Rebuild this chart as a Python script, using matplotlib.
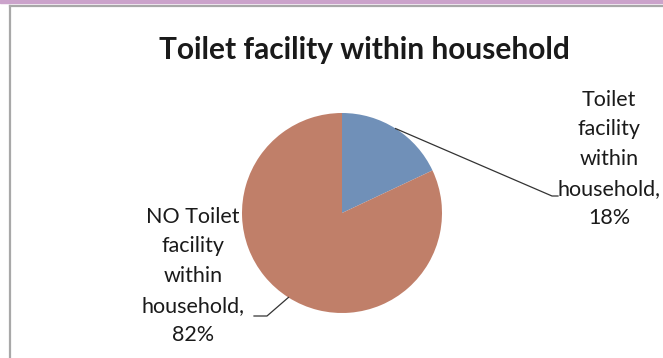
import numpy as np
import matplotlib
matplotlib.use("Agg")
import matplotlib.pyplot as plt
from matplotlib.lines import Line2D
from matplotlib.patches import Rectangle

title = "Toilet facility within household"
labels = ["Toilet\nfacility\nwithin\nhousehold,\n18%", "NO Toilet\nfacility\nwithin\nhousehold,\n82%"]
values = [18, 82]
colors = ["#7090b8", "#c07f69"]

W, H = 663, 358
fig = plt.figure(figsize=(W / 100, H / 100), dpi=100)
ax = fig.add_axes([0, 0, 1, 1])

# frame decorations
fig.patches.append(Rectangle((0, (H - 3) / H), 1, 3 / H, transform=fig.transFigure,
                             color="#cba3cb", zorder=0))

cx, cy, r = 342, H - 213, 100
wedges, _ = ax.pie(values, colors=colors, startangle=90, counterclock=False,
                   center=(cx, cy), radius=r, frame=True)
ax.set_xlim(0, W)
ax.set_ylim(0, H)
ax.axis("off")
ax.set_aspect("equal")
ax.add_line(Line2D([9.5, 9.5], [0, H - 6], color="#a8a8a8", lw=1.6))
ax.add_line(Line2D([9.5, W], [H - 6, H - 6], color="#a8a8a8", lw=1.6))

font = ["Lato", "DejaVu Sans"]
ax.text(364, H - 50, title, ha="center", va="center", fontsize=21.5,
        fontweight="bold", family=font, color="#1a1a1a")

# label positions and leader elbows
label_pos = [(609, H - 159), (193, H - 276)]
elbows = [((552, H - 196), (558, H - 196)), ((267, H - 316), (254, H - 316))]
for w, txt, (lx, ly), (e1, e2) in zip(wedges, labels, label_pos, elbows):
    ang = np.deg2rad((w.theta1 + w.theta2) / 2)
    px, py = cx + r * np.cos(ang), cy + r * np.sin(ang)
    ax.add_line(Line2D([px, e1[0], e2[0]], [py, e1[1], e2[1]], color="#333333", lw=0.9))
    ax.text(lx, ly, txt, ha="center", va="center", fontsize=15.5, family=font,
            color="#1a1a1a", linespacing=1.6)

fig.savefig("out.png", dpi=100)
